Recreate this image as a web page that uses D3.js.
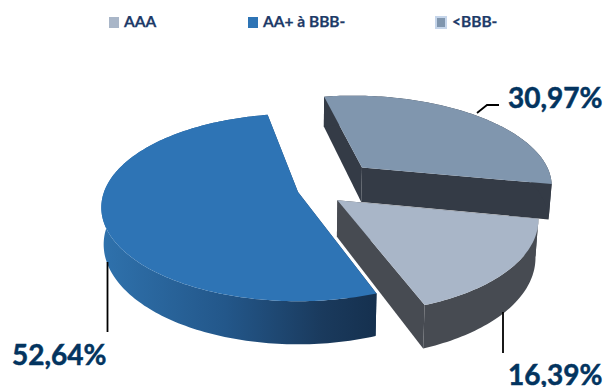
<!DOCTYPE html>
<html>
<head>
<meta charset="utf-8">
<script src="https://cdnjs.cloudflare.com/ajax/libs/d3/7.8.5/d3.min.js"></script>
<style>
  html, body { margin: 0; padding: 0; background: #fff; }
  svg { display: block; }
  text { font-family: Lato, "Open Sans", sans-serif; font-weight: 700; }
</style>
</head>
<body>
<svg id="chart" width="606" height="387"></svg>
<script>
// Rating breakdown, in percent
const categories = ["AAA", "AA+ à BBB-", "<BBB-"];
const shares = [16.39, 52.64, 30.97];
const shareLabels = ["16,39%", "52,64%", "30,97%"];

const topColors = ["#a9b6c8", "#2e74b5", "#8096ae"];
const wallColors = ["#474b52", "url(#blueWall)", "#343b46"];
const legendX = [109, 248, 436];
const labelAnchors = [[508, 385], [12, 365], [508, 108]];

// Disc-plane displacement of each exploded slice
const explode = [[0.2, 0.09], [0, 0], [0.345, -0.28]];

const WIDTH = 606, HEIGHT = 387;
const svg = d3.select("#chart");

// Perspective view of a unit disc: u runs to the right, v towards the viewer.
// The underside sits slightly further from the eye, so it is drawn a little narrower.
const RADIUS = 194, TILT = 0.47, PERSPECTIVE = 0.165, THICKNESS = 36, UNDERSIDE = 0.988;
const xScale = d3.scaleLinear().domain([0, 1]).range([298, 298 + RADIUS]);
const yScale = d3.scaleLinear().domain([0, 1]).range([192, 192 + RADIUS * TILT]);

function project(u, v, drop) {
  const s = 1 / (1 - PERSPECTIVE * v);
  return drop
    ? [xScale(u * s * UNDERSIDE), yScale(v * s) + THICKNESS * s]
    : [xScale(u * s), yScale(v * s)];
}

const pie = d3.pie().sort(null).value(d => d)
  .startAngle(101 * Math.PI / 180)
  .endAngle((101 + 360) * Math.PI / 180);
const arcs = pie(shares);
const line = d3.line();

// Sample a slice's rim; angle 0 is at the back of the disc, increasing clockwise
function rim(arc, i) {
  const steps = Math.ceil((arc.endAngle - arc.startAngle) / 0.02);
  const [ou, ov] = explode[i];
  return d3.range(steps + 1).map(k => {
    const a = arc.startAngle + (arc.endAngle - arc.startAngle) * k / steps;
    return [ou + Math.sin(a), ov - Math.cos(a)];
  });
}

const defs = svg.append("defs");
const blueWall = defs.append("linearGradient")
  .attr("id", "blueWall")
  .attr("gradientUnits", "userSpaceOnUse")
  .attr("x1", 100).attr("x2", 378).attr("y1", 0).attr("y2", 0);
blueWall.append("stop").attr("offset", 0).attr("stop-color", "#2f72ad");
blueWall.append("stop").attr("offset", 0.45).attr("stop-color", "#23578a");
blueWall.append("stop").attr("offset", 0.8).attr("stop-color", "#1a3a5d");
blueWall.append("stop").attr("offset", 1).attr("stop-color", "#15304e");

// Painter's order: back slice, then the large slice, then the front slice
[2, 1, 0].forEach(i => {
  const pts = rim(arcs[i], i);
  const apex = explode[i];
  const g = svg.append("g").attr("class", "slice");
  const first = pts[0], last = pts[pts.length - 1];

  const quad = (a, b) => [project(a[0], a[1]), project(b[0], b[1]),
                          project(b[0], b[1], true), project(a[0], a[1], true)];
  const walls = [
    quad(apex, first),
    quad(apex, last),
    pts.map(p => project(p[0], p[1]))
       .concat(pts.slice().reverse().map(p => project(p[0], p[1], true)))
  ];
  g.selectAll("path.wall").data(walls).join("path")
    .attr("class", "wall")
    .attr("d", d => line(d) + "Z")
    .attr("fill", wallColors[i]);

  const surface = [apex].concat(pts).map(p => project(p[0], p[1]));
  g.append("path")
    .attr("d", line(surface) + "Z")
    .attr("fill", topColors[i]);
});

// Leader lines
const leaders = [
  [[503, 312], [503, 353]],
  [[107.5, 262], [107.5, 332]],
  [[477, 113], [487, 105], [499, 105]]
];
svg.append("g").selectAll("path").data(leaders).join("path")
  .attr("d", d => line(d))
  .attr("fill", "none")
  .attr("stroke", "#000")
  .attr("stroke-width", 1.8);

// Value labels
svg.append("g").selectAll("text").data(shareLabels).join("text")
  .attr("x", (d, i) => labelAnchors[i][0])
  .attr("y", (d, i) => labelAnchors[i][1])
  .attr("font-size", 28)
  .attr("fill", "#03345f")
  .attr("stroke", "#03345f")
  .attr("stroke-width", 0.5)
  .text(d => d);

// Legend
const legend = svg.append("g").selectAll("g").data(categories).join("g")
  .attr("transform", (d, i) => `translate(${legendX[i]},0)`);
legend.append("rect")
  .attr("x", 0).attr("y", 17)
  .attr("width", 10).attr("height", 11)
  .attr("fill", (d, i) => topColors[i])
  .attr("stroke", (d, i) => i === 2 ? "#c5d5ea" : "none")
  .attr("stroke-width", 2);
legend.append("text")
  .attr("x", (d, i) => i === 2 ? 16 : 15)
  .attr("y", 27)
  .attr("font-size", 15.5)
  .attr("fill", "#1d3a68")
  .attr("stroke", "#1d3a68")
  .attr("stroke-width", 0.25)
  .text(d => d);
</script>
</body>
</html>
